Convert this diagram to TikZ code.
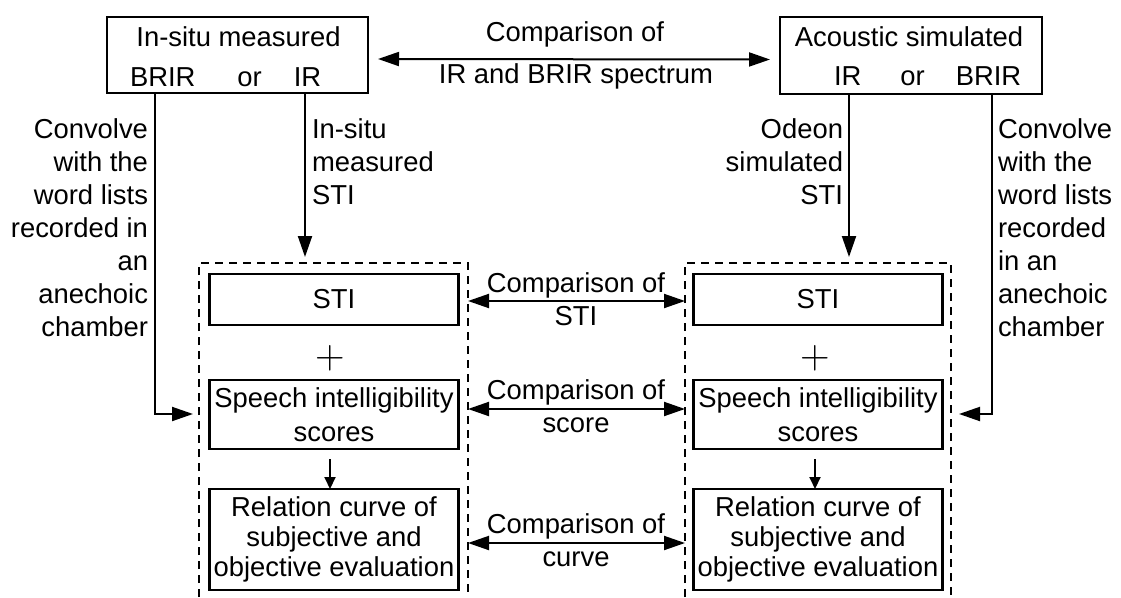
\documentclass[tikz,border=0pt]{standalone}
\usepackage{fontspec}
\setmainfont{Liberation Sans}
\newfontfamily\plusfont{Latin Modern Roman}
\usetikzlibrary{arrows.meta}
\begin{document}
\begin{tikzpicture}[x=1pt,y=-1pt,
  every node/.style={font=\fontsize{27.4}{33}\selectfont, inner sep=0pt, outer sep=0pt},
  box/.style={draw, line width=2.4pt, align=center},
  grpnode/.style={draw=none},
  grp/.style={line width=2pt, dash pattern=on 8pt off 6pt},
  conn/.style={line width=2pt, -{Triangle[length=21pt,width=14pt]}},
  biconn/.style={line width=2pt, {Triangle[length=21pt,width=14pt]}-{Triangle[length=21pt,width=14pt]}},
  smallconn/.style={line width=2pt, -{Triangle[length=12pt,width=11pt]}},
  plusnode/.style={font=\plusfont\fontsize{41}{41}\selectfont},
  spbox/.style={box, minimum width=249pt, minimum height=69pt, font=\fontsize{27.4}{34}\selectfont},
  relbox/.style={box, minimum width=249pt, minimum height=101pt, font=\fontsize{27.4}{30}\selectfont},
  stibox/.style={box, minimum width=249pt, minimum height=51pt},
  cmplbl/.style={align=center, anchor=north}
]
\useasboundingbox (0,0) rectangle (1121,597);

% top boxes
\node[box, minimum width=261pt, minimum height=76pt] (tl) at (237.5,55) {};
\node[anchor=base] (tlA) at (238.5,46) {In-situ measured};
\node[anchor=base west] (tlB) at (130,86) {BRIR\hspace{42pt}or\hspace{32pt}IR};
\node[box, minimum width=262pt, minimum height=77pt] (tr) at (911,55.5) {};
\node[anchor=base] (trA) at (909,46) {Acoustic simulated};
\node[anchor=base west] (trB) at (834,85) {IR\hspace{39pt}or\hspace{31pt}BRIR};

% top comparison
\draw[biconn] ([xshift=10pt,yshift=-4pt]tl.east) -- ([xshift=-10pt,yshift=-4pt]tr.west);
\node[anchor=base] (topA) at (575,41) {Comparison of};
\node[anchor=base] (topB) at (576,83) {IR and BRIR spectrum};

% dashed groups
\node[grpnode, minimum width=269pt, minimum height=334pt] (gl) at (333.5,430) {};
\node[grpnode, minimum width=266pt, minimum height=334pt] (gr) at (818,430) {};
\draw[grp] (gl.south west) -- (gl.north west) -- (gl.north east) -- (gl.south east);
\draw[grp] (gr.south west) -- (gr.north west) -- (gr.north east) -- (gr.south east);

% inner boxes left
\node[stibox] (stiL) at (334,299.5) {STI};
\node[plusnode] (plusL) at (330,358) {+};
\node[spbox] (spL) at (334,414.5) {Speech intelligibility\\scores};
\node[relbox] (relL) at (334,539.5) {Relation curve of\\subjective and\\objective evaluation};
% inner boxes right
\node[stibox] (stiR) at (818,299.5) {STI};
\node[plusnode] (plusR) at (815,358) {+};
\node[spbox] (spR) at (818,414.5) {Speech intelligibility\\scores};
\node[relbox] (relR) at (818,539.5) {Relation curve of\\subjective and\\objective evaluation};

\draw[smallconn, shorten <=10pt] ([xshift=-4pt]spL.south) -- ([xshift=-4pt]relL.north);
\draw[smallconn, shorten <=10pt] ([xshift=-3pt]spR.south) -- ([xshift=-3pt]relR.north);

% comparisons between groups
\coordinate (y1) at (0,301);
\coordinate (y2) at (0,409);
\coordinate (y3) at (0,543);
\draw[biconn] (gl.east |- y1) -- (gr.west |- y1);
\draw[biconn] (gl.east |- y2) -- (gr.west |- y2);
\draw[biconn] (gl.east |- y3) -- (gr.west |- y3);
\node[cmplbl] (c1) at (576,273) {Comparison of\\STI};
\node[cmplbl] (c2) at (576,380) {Comparison of\\score};
\node[cmplbl] (c3) at (576,513.5) {Comparison of\\curve};

% vertical arrows
\coordinate (mL) at (305,0);
\coordinate (mR) at (849,0);
\draw[conn, shorten >=6pt] (tl.south -| mL) -- (gl.north -| mL);
\draw[conn, shorten >=6pt] (tr.south -| mR) -- (gr.north -| mR);
\node[anchor=north west, align=left] (lblL) at (312,118.3) {In-situ\\measured\\STI};
\node[anchor=north east, align=right] (lblR) at (843,118.3) {Odeon\\simulated\\STI};

% convolve arrows
\coordinate (cvL) at (155,414);
\coordinate (cvR) at (992,414);
\draw[conn, shorten >=6pt] (tl.south -| cvL) -- (cvL) -- (gl.west |- cvL);
\draw[conn, shorten >=8pt] (tr.south -| cvR) -- (cvR) -- (gr.east |- cvR);
\node[anchor=north east, align=right] (cvtL) at (148,118.3) {Convolve\\with the\\word lists\\recorded in\\an\\anechoic\\chamber};
\node[anchor=north west, align=left] (cvtR) at (998,118.3) {Convolve\\with the\\word lists\\recorded\\in an\\anechoic\\chamber};
\end{tikzpicture}
\end{document}
